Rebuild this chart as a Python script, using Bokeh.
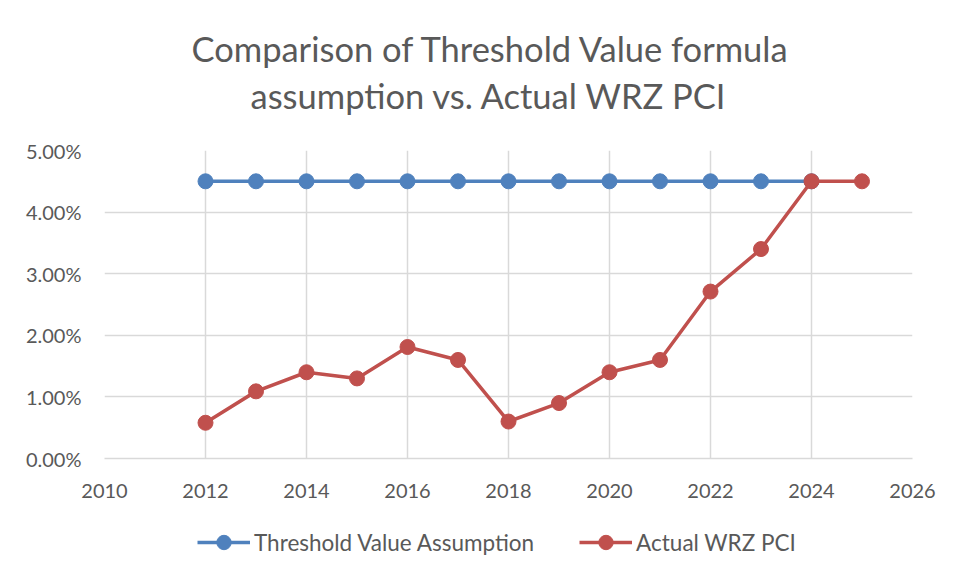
from bokeh.plotting import figure
from bokeh.layouts import column
from bokeh.models import (Title, Legend, LegendItem, FixedTicker, NumeralTickFormatter, Range1d)
from bokeh.embed import file_html
from bokeh.resources import INLINE

years = [2012, 2013, 2014, 2015, 2016, 2017, 2018, 2019, 2020, 2021, 2022, 2023, 2024, 2025]
threshold_years = [2012, 2013, 2014, 2015, 2016, 2017, 2018, 2019, 2020, 2021, 2022, 2023, 2024]
threshold_values = [0.045] * 13
actual_values = [0.0058, 0.0109, 0.0140, 0.0130, 0.0181, 0.0160, 0.0060, 0.0090,
                 0.0140, 0.0160, 0.0271, 0.0340, 0.0450, 0.0450]
x_ticks = [2010, 2012, 2014, 2016, 2018, 2020, 2022, 2024, 2026]
y_ticks = [0.0, 0.01, 0.02, 0.03, 0.04, 0.05]
series_names = ["Threshold Value Assumption", "Actual WRZ PCI"]
title_lines = ["Comparison of Threshold Value formula", "assumption vs. Actual WRZ PCI"]

FONT = "Lato"
GRAY = "#595959"
BLUE = "#4f81bd"
RED = "#c0504d"

p = figure(width=942, height=516, output_backend="svg", toolbar_location=None,
           x_range=Range1d(2010, 2026), y_range=Range1d(0, 0.05),
           min_border_left=104, min_border_right=30, min_border_bottom=58, min_border_top=150)
p.title = None
p.outline_line_color = None

# spacer between frame and title lines
p.add_layout(Title(text=" ", text_font_size="28px", standoff=0), "above")
for txt, off in [(title_lines[1], 146), (title_lines[0], 87)]:
    p.add_layout(Title(text=txt, align="left", text_font=FONT, text_font_size="34.5px",
                       text_font_style="normal", text_color=GRAY, standoff=4, offset=off), "above")

p.xaxis.ticker = FixedTicker(ticks=x_ticks)
p.yaxis.ticker = FixedTicker(ticks=y_ticks)
p.yaxis.formatter = NumeralTickFormatter(format="0.00%")
for ax in (p.xaxis, p.yaxis):
    ax.major_label_text_font = FONT
    ax.major_label_text_font_size = "20px"
    ax.major_label_text_color = GRAY
    ax.major_tick_line_color = None
    ax.minor_tick_line_color = None
p.xaxis.axis_line_color = "#d9d9d9"
p.xaxis.axis_line_width = 1.5
p.yaxis.axis_line_color = None
p.xaxis.major_label_standoff = 19
p.yaxis.major_label_standoff = 17

p.xgrid.ticker = FixedTicker(ticks=x_ticks)
p.ygrid.ticker = FixedTicker(ticks=y_ticks)
for g in (p.xgrid, p.ygrid):
    g.grid_line_color = "#d9d9d9"
    g.grid_line_width = 1.5

series = [(threshold_years, threshold_values, BLUE), (years, actual_values, RED)]
for xs, ys, col in series:
    p.line(xs, ys, line_color=col, line_width=3.5)
    p.scatter(xs, ys, size=15, fill_color=col, line_color=col)

# legend strip below the chart (series drawn out of view; only the legend shows)
lg = figure(width=942, height=48, output_backend="svg", toolbar_location=None,
            x_axis_type=None, y_axis_type=None, x_range=Range1d(0, 1), y_range=Range1d(0, 1),
            min_border_left=104, min_border_right=30, min_border_top=0, min_border_bottom=0)
lg.title = None
lg.outline_line_color = None
lg.xgrid.visible = False
lg.ygrid.visible = False
items = []
for name, (xs, ys, col) in zip(series_names, series):
    rl = lg.line(xs, ys, line_color=col, line_width=3.5)
    rs = lg.scatter(xs, ys, size=15, fill_color=col, line_color=col)
    items.append(LegendItem(label=name, renderers=[rl, rs]))
legend = Legend(items=items, orientation="horizontal", location=(93, 4),
                label_text_font=FONT, label_text_font_size="22.5px", label_text_color=GRAY,
                glyph_width=53, glyph_height=36, label_standoff=4, spacing=45,
                border_line_color=None, background_fill_alpha=0, padding=0, margin=0)
lg.add_layout(legend)

layout = column(p, lg, spacing=0)
open("out.html", "w").write(file_html(layout, INLINE))
